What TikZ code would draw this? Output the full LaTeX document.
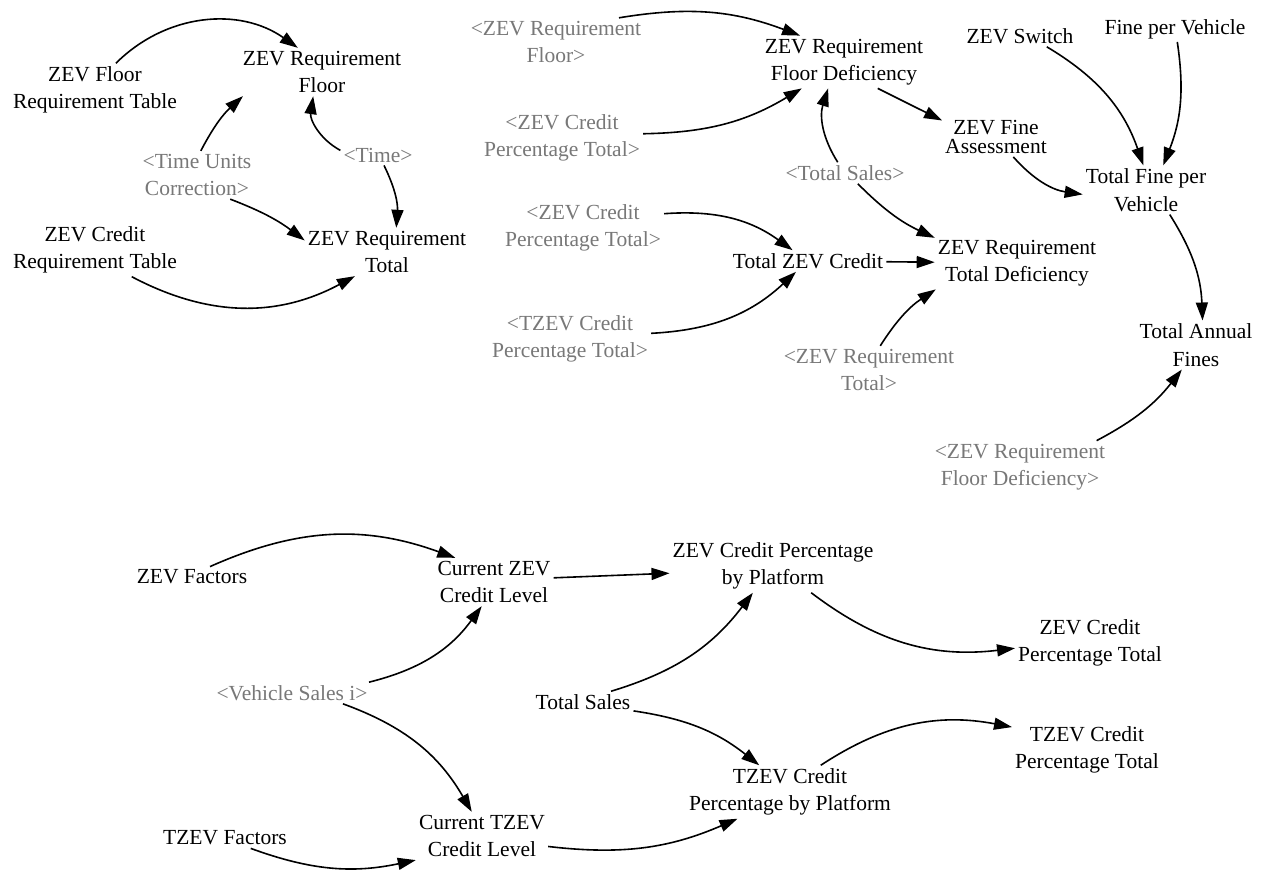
\documentclass[tikz,border=0pt]{standalone}
\usepackage{fontspec}
\setmainfont{Liberation Serif}
\usetikzlibrary{arrows.meta}
\definecolor{shadowgray}{RGB}{120,120,120}
\tikzset{
  var/.style={align=center, inner sep=3pt, font=\fontsize{21.5}{27.5}\selectfont, text=black},
  ghost/.style={var, text=shadowgray},
  arr/.style={-{Triangle[length=18pt,width=12pt]}, line width=1.6pt, draw=black},
}
\begin{document}
\begin{tikzpicture}[x=1pt,y=1pt]
\useasboundingbox (0,0) rectangle (1262,-874);
\fill[white] (0,0) rectangle (1262,-874);

% ---- top left
\node[var] (zfrt) at (95,-90) {ZEV Floor\\Requirement Table};
\node[var] (zrf) at (322,-72) {ZEV Requirement\\Floor};
\node[ghost] (g1) at (197,-175) {<Time Units\\Correction>};
\node[ghost] (g2) at (378,-155) {<Time>};
\node[var] (zcrt) at (95,-250) {ZEV Credit\\Requirement Table};
\node[var] (zrt) at (387,-252) {ZEV Requirement\\Total};

% ---- top middle
\node[ghost] (g3) at (556,-42) {<ZEV Requirement\\Floor>};
\node[ghost] (g4) at (562,-138) {<ZEV Credit\\Percentage Total>};
\node[var] (zrfd) at (844,-62) {ZEV Requirement\\Floor Deficiency};
\node[ghost] (g5) at (845,-173) {<Total Sales>};
\node[ghost] (g6) at (583,-228) {<ZEV Credit\\Percentage Total>};
\node[ghost] (g7) at (570,-339) {<TZEV Credit\\Percentage Total>};
\node[var] (tzc) at (808,-261) {Total ZEV Credit};
\node[var] (zrtd) at (1017,-263) {ZEV Requirement\\Total Deficiency};
\node[ghost] (g8) at (869,-370) {<ZEV Requirement\\Total>};

% ---- top right
\node[var] (zs) at (1020,-36) {ZEV Switch};
\node[var] (fpv) at (1175,-29) {Fine per Vehicle};
\node[var, font=\fontsize{21.5}{19}\selectfont] (zfa) at (996,-137) {ZEV Fine\\Assessment};
\node[var] (tfpv) at (1146,-190) {Total Fine per\\Vehicle};
\node[var] (taf) at (1196,-345) {Total Annual\\Fines};
\node[ghost] (g9) at (1020,-467) {<ZEV Requirement\\Floor Deficiency>};

% ---- bottom
\node[var] (zf) at (192,-577) {ZEV Factors};
\node[var] (czcl) at (494,-582) {Current ZEV\\Credit Level};
\node[var] (zcpbp) at (773,-566) {ZEV Credit Percentage\\by Platform};
\node[var] (zcpt) at (1090,-643) {ZEV Credit\\Percentage Total};
\node[ghost] (g10) at (292,-693) {<Vehicle Sales i>};
\node[var] (ts) at (583,-702) {Total Sales};
\node[var] (tcpbp) at (790,-792) {TZEV Credit\\Percentage by Platform};
\node[var] (tcpt) at (1087,-750) {TZEV Credit\\Percentage Total};
\node[var] (tf) at (225,-838) {TZEV Factors};
\node[var] (ctcl) at (482,-836) {Current TZEV\\Credit Level};

% ---- connectors
\draw[arr] (zfrt.52) to[bend left=40] (zrf.135);
\draw[arr] (g1.81) to[bend left=10] (zrf.197);
\draw[arr] (g2.173) to[bend left=35] (zrf.250);
\draw[arr] (g2.300) to[bend left=15] (zrt.69);
\draw[arr] (g1.324) to[bend left=8] (zrt.172);
\draw[arr] (zcrt.324) to[bend right=28] (zrt.217);

\draw[arr] (g3.21) to[bend left=15] (zrfd.149);
\draw[arr] (g4.3) to[bend right=15] (zrfd.212);
\draw[arr] (g5.124) to[bend left=25] (zrfd.239);
\draw[arr] (zrfd.322) -- (zfa.163);
\draw[arr] (g5.320) to[bend right=10] (zrtd.163);
\draw[arr] (g6.10) to[bend left=20] (tzc.145);
\draw[arr] (g7.4) to[bend right=20] (tzc.222);
\draw[arr] (tzc) -- (zrtd);
\draw[arr] (g8.65) to[bend left=12] (zrtd.198);

\draw[arr] (zs.338) to[bend left=20] (tfpv.96);
\draw[arr] (fpv.280) to[bend left=15] (tfpv.55);
\draw[arr] (zfa.311) to[bend right=20] (tfpv.184);
\draw[arr] (tfpv.314) to[bend left=15] (taf.75);
\draw[arr] (g9.19) to[bend right=12] (taf.240);

\draw[arr] (zf.30) to[bend left=22] (czcl.148);
\draw[arr] (czcl.4) -- (zcpbp.184);
\draw[arr] (g10.8) to[bend right=20] (czcl.243);
\draw[arr] (g10.348) to[bend left=20] (ctcl.113);
\draw[arr] (tf.338) to[bend right=16] (ctcl.200);
\draw[arr] (ctcl.351) to[bend right=15] (tcpbp.207);
\draw[arr] (ts.21) to[bend right=18] (zcpbp.233);
\draw[arr] (ts.350) to[bend left=15] (tcpbp.139);
\draw[arr] (zcpbp.325) to[bend right=22] (zcpt.184);
\draw[arr] (tcpbp.41) to[bend left=22] (tcpt.163);
\end{tikzpicture}
\end{document}
